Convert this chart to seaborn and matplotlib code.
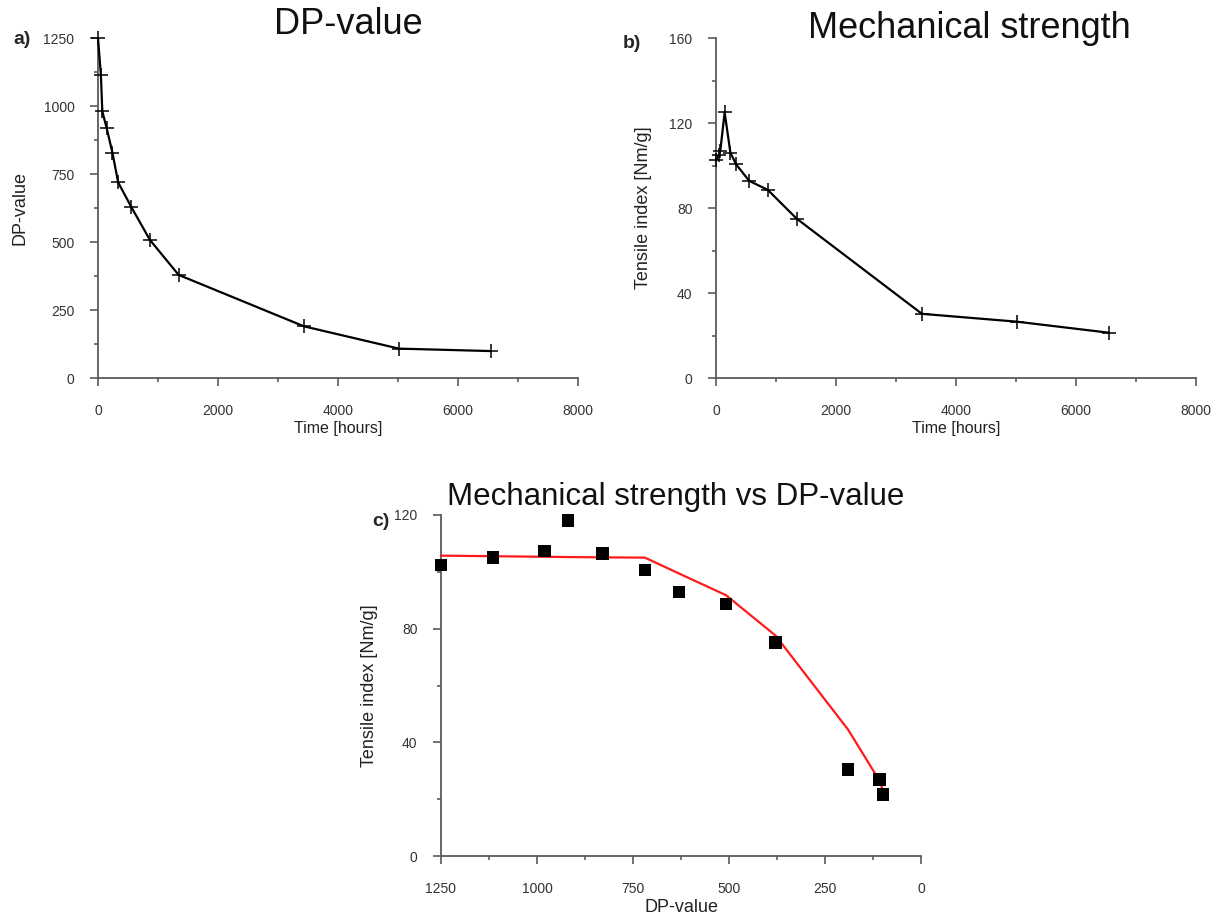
import matplotlib
matplotlib.use("Agg")
import matplotlib.pyplot as plt
import seaborn as sns
import numpy as np
import pandas as pd
from matplotlib.ticker import MultipleLocator

# ---------------- data ----------------
time_hours = [0, 48, 72, 144, 240, 336, 552, 864, 1344, 3432, 5016, 6552]
dp_value = [1250, 1115, 980, 919, 829, 719, 630, 508, 379, 190, 108, 99]
tensile_time = [102.4, 105.0, 107.0, 125.0, 106.0, 100.5, 92.8, 88.5, 75.0, 30.2, 26.5, 21.3]
tensile_vs_dp = [102.4, 105.0, 107.3, 118.0, 106.5, 100.6, 92.9, 88.6, 75.1, 30.4, 26.9, 21.7]
fit_tensile = [105.7, 105.5, 105.3, 105.2, 105.1, 105.0, 99.4, 91.8, 77.6, 44.5, 26.5, 23.0]

titles = ["DP-value", "Mechanical strength", "Mechanical strength vs DP-value"]
panel_tags = ["a)", "b)", "c)"]

df_a = pd.DataFrame({"t": time_hours, "dp": dp_value})
df_b = pd.DataFrame({"t": time_hours, "ti": tensile_time})
df_c = pd.DataFrame({"dp": dp_value, "ti": tensile_vs_dp, "fit": fit_tensile})

sns.set_style("white")
plt.rcParams["font.family"] = ["Liberation Sans", "DejaVu Sans"]

W, H = 1223, 924
fig = plt.figure(figsize=(W / 100, H / 100), dpi=100)
fig.patch.set_facecolor("white")


def px_axes(left, top, right, bottom):
    return fig.add_axes([left / W, 1 - bottom / H, (right - left) / W, (bottom - top) / H])


ax_a = px_axes(98, 38, 578, 378)
ax_b = px_axes(716, 38, 1196, 378)
ax_c = px_axes(441, 515, 921, 856)

spine_col = "#5a5a5a"
tick_col = "#333333"


def style(ax):
    for s in ["top", "right"]:
        ax.spines[s].set_visible(False)
    for s in ["left", "bottom"]:
        ax.spines[s].set_color(spine_col)
        ax.spines[s].set_linewidth(1.3)
    ax.tick_params(which="both", bottom=True, left=True, top=False, right=False)
    ax.tick_params(which="major", direction="out", length=6, width=1.2, color=spine_col,
                   labelsize=10, labelcolor=tick_col)
    ax.tick_params(which="minor", direction="out", length=3, width=1.2, color=spine_col)
    ax.tick_params(axis="y", which="major", pad=11)
    ax.tick_params(axis="x", which="major", pad=13)
    ax.set_facecolor("white")


# ---- panel a ----
sns.lineplot(data=df_a, x="t", y="dp", ax=ax_a, color="black", lw=1.6,
             marker="+", markersize=10, markeredgewidth=1.1, markeredgecolor="black")
ax_a.set_xlim(0, 8000)
ax_a.set_ylim(0, 1250)
ax_a.xaxis.set_major_locator(MultipleLocator(2000))
ax_a.xaxis.set_minor_locator(MultipleLocator(1000))
ax_a.yaxis.set_major_locator(MultipleLocator(250))
ax_a.yaxis.set_minor_locator(MultipleLocator(125))
style(ax_a)
ax_a.set_xlabel("Time [hours]", fontsize=11.5, color="#222222")
ax_a.set_ylabel("DP-value", fontsize=13, color="#222222")
ax_a.yaxis.set_label_coords(-0.145, 0.5)
ax_a.xaxis.set_label_coords(0.5, -0.125)

# ---- panel b ----
sns.lineplot(data=df_b, x="t", y="ti", ax=ax_b, color="black", lw=1.6,
             marker="+", markersize=10, markeredgewidth=1.1, markeredgecolor="black")
ax_b.set_xlim(0, 8000)
ax_b.set_ylim(0, 160)
ax_b.xaxis.set_major_locator(MultipleLocator(2000))
ax_b.xaxis.set_minor_locator(MultipleLocator(1000))
ax_b.yaxis.set_major_locator(MultipleLocator(40))
ax_b.yaxis.set_minor_locator(MultipleLocator(20))
style(ax_b)
ax_b.set_xlabel("Time [hours]", fontsize=11.5, color="#222222")
ax_b.set_ylabel("Tensile index [Nm/g]", fontsize=13, color="#222222")
ax_b.yaxis.set_label_coords(-0.133, 0.5)
ax_b.xaxis.set_label_coords(0.5, -0.125)

# ---- panel c ----
sns.lineplot(data=df_c, x="dp", y="fit", ax=ax_c, color="#ff1a1a", lw=1.6, sort=False)
sns.scatterplot(data=df_c, x="dp", y="ti", ax=ax_c, color="black", marker="s", s=80,
                edgecolor="none", zorder=3)
ax_c.set_xlim(1250, 0)
ax_c.set_ylim(0, 120)
ax_c.xaxis.set_major_locator(MultipleLocator(250))
ax_c.xaxis.set_minor_locator(MultipleLocator(125))
ax_c.yaxis.set_major_locator(MultipleLocator(40))
ax_c.yaxis.set_minor_locator(MultipleLocator(20))
style(ax_c)
ax_c.set_xlabel("DP-value", fontsize=13, color="#222222")
ax_c.set_ylabel("Tensile index [Nm/g]", fontsize=13, color="#222222")
ax_c.yaxis.set_label_coords(-0.131, 0.5)
ax_c.xaxis.set_label_coords(0.5, -0.125)
for ax in (ax_a, ax_b, ax_c):
    for s in ["left", "bottom"]:
        ax.spines[s].set_zorder(0.5)
for ln in ax_a.lines + ax_b.lines + ax_c.lines:
    ln.set_clip_on(False)
for coll in ax_c.collections:
    coll.set_clip_on(False)

# ---- titles & tags ----
def ftext(x, y, s, **kw):
    fig.text(x / W, 1 - y / H, s, **kw)


ftext(348, 24, titles[0], fontsize=26, ha="center", va="center", color="#111111")
ftext(969, 28, titles[1], fontsize=26, ha="center", va="center", color="#111111")
ftext(676, 497, titles[2], fontsize=22.5, ha="center", va="center", color="#111111")
ftext(22, 40, panel_tags[0], fontsize=14, fontweight="bold", ha="center", va="center")
ftext(632, 43, panel_tags[1], fontsize=14, fontweight="bold", ha="center", va="center")
ftext(381, 521, panel_tags[2], fontsize=14, fontweight="bold", ha="center", va="center")

fig.savefig("out.png", dpi=100, facecolor="white")
